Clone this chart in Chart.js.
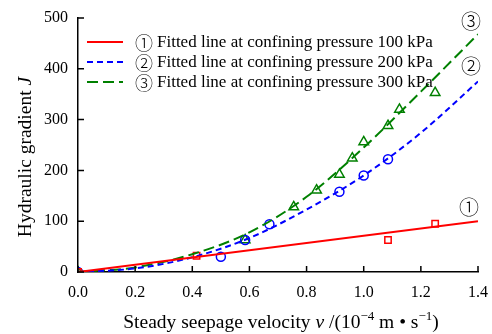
<!DOCTYPE html>
<html>
<head>
<meta charset="utf-8">
<script src="https://cdn.jsdelivr.net/npm/chart.js@4/dist/chart.umd.min.js"></script>
<style>
  html, body { margin: 0; padding: 0; background: #fff; }
  #wrap { width: 492px; height: 334px; }
</style>
</head>
<body>
<div id="wrap"><canvas id="seepChart" width="492" height="334"></canvas></div>
<script>
// measured points
const sq100X = [0, 0.415, 1.085, 1.25];
const sq100Y = [0, 32, 63, 95];
const ci200X = [0, 0.5, 0.585, 0.67, 0.915, 1.0, 1.085];
const ci200Y = [0, 30, 63, 94, 158, 190, 222];
const tr300X = [0, 0.585, 0.755, 0.835, 0.915, 0.96, 1.0, 1.085, 1.125, 1.25];
const tr300Y = [0, 63, 128, 161, 192, 224, 256, 288, 320, 353];

// fitted curves
const fit100X = [0, 1.4];
const fit100Y = [0, 100];
const fitX = [0, 0.2, 0.4, 0.6, 0.8, 1.0, 1.2, 1.4];
const fit200Y = [0, 7, 29, 67, 123, 190, 274, 375];
const fit300Y = [0, 9, 35, 78, 148, 245, 355, 468];

const marks = ['\u2460', '\u2461', '\u2462'];
const labels = [
  'Fitted line at confining pressure 100 kPa',
  'Fitted line at confining pressure 200 kPa',
  'Fitted line at confining pressure 300 kPa'
];
const xTicks = [0, 0.2, 0.4, 0.6, 0.8, 1.0, 1.2, 1.4];
const yTicks = [0, 100, 200, 300, 400, 500];

const SERIF = "'Liberation Serif', 'Times New Roman', serif";
const CIRC = "'Noto Sans CJK JP', 'DejaVu Sans', sans-serif";
const pts = (xs, ys) => xs.map((x, i) => ({ x: x, y: ys[i] }));

Chart.defaults.font.family = SERIF;
Chart.defaults.font.size = 16;
Chart.defaults.color = '#000';

function drawRun(c, segs, x, y) {
  segs.forEach(s => {
    c.font = s[1] + ' ' + SERIF;
    c.fillText(s[0], x, y + (s[2] || 0));
    x += c.measureText(s[0]).width;
  });
}
function runWidth(c, segs) {
  let w = 0;
  segs.forEach(s => { c.font = s[1] + ' ' + SERIF; w += c.measureText(s[0]).width; });
  return w;
}

const decor = {
  id: 'decor',
  afterDraw(chart) {
    const c = chart.ctx;
    const xs = chart.scales.x, ys = chart.scales.y;
    const area = chart.chartArea;
    c.save();
    // inward tick marks
    c.strokeStyle = '#000';
    c.lineWidth = 1.5;
    c.beginPath();
    xTicks.forEach(v => {
      const px = xs.getPixelForValue(v);
      c.moveTo(px, area.bottom);
      c.lineTo(px, area.bottom - 6);
    });
    yTicks.forEach(v => {
      const py = ys.getPixelForValue(v);
      c.moveTo(area.left, py);
      c.lineTo(area.left + 6, py);
    });
    c.stroke();

    // legend
    const fits = chart.data.datasets.slice(0, 3);
    fits.forEach((ds, i) => {
      const y = 42 + i * 20;
      c.strokeStyle = ds.borderColor;
      c.lineWidth = 2;
      c.setLineDash(ds.borderDash || []);
      c.beginPath();
      c.moveTo(87, y);
      c.lineTo(123, y);
      c.stroke();
      c.setLineDash([]);
      c.fillStyle = '#000';
      c.textBaseline = 'middle';
      c.textAlign = 'center';
      c.font = '300 18px ' + CIRC;
      c.fillText(marks[i], 144, y + 1);
      c.textAlign = 'left';
      c.font = '17px ' + SERIF;
      c.fillText(ds.label, 157, y + 1);
    });

    // curve tags
    c.font = '300 20px ' + CIRC;
    c.textAlign = 'center';
    c.textBaseline = 'middle';
    c.fillText(marks[2], 471, 21);
    c.fillText(marks[1], 471, 66);
    c.fillText(marks[0], 469, 207);

    // x title with italic v and superscripts
    const segs = [
      ['Steady seepage velocity ', '19.5px'],
      ['v', 'italic 19.5px'],
      [' /(10', '19.5px'],
      ['\u22124', '13px', -8],
      [' m \u2022 s', '19.5px'],
      ['\u22121', '13px', -8],
      [')', '19.5px']
    ];
    c.textAlign = 'left';
    c.textBaseline = 'alphabetic';
    drawRun(c, segs, 281 - runWidth(c, segs) / 2, 328);

    // y title, rotated
    c.translate(31, 157);
    c.rotate(-Math.PI / 2);
    const ysegs = [['Hydraulic gradient ', '19.5px'], ['J', 'italic 19.5px']];
    drawRun(c, ysegs, -runWidth(c, ysegs) / 2, 0);
    c.restore();
  }
};

new Chart(document.getElementById('seepChart'), {
  type: 'line',
  data: {
    datasets: [
      { label: labels[0], data: pts(fit100X, fit100Y), borderColor: '#ff0000', borderWidth: 2,
        pointRadius: 0, fill: false },
      { label: labels[1], data: pts(fitX, fit200Y), borderColor: '#0000ff', borderWidth: 2,
        borderDash: [6, 4], pointRadius: 0, cubicInterpolationMode: 'monotone', fill: false },
      { label: labels[2], data: pts(fitX, fit300Y), borderColor: '#008000', borderWidth: 2,
        borderDash: [11, 5], pointRadius: 0, cubicInterpolationMode: 'monotone', fill: false },
      { label: 'sq', data: pts(sq100X, sq100Y), showLine: false, pointStyle: 'rect',
        pointRadius: 4.5, borderColor: '#ff0000', backgroundColor: 'rgba(0,0,0,0)', pointBorderWidth: 1.5 },
      { label: 'ci', data: pts(ci200X, ci200Y), showLine: false, pointStyle: 'circle',
        pointRadius: 4.5, borderColor: '#0000ff', backgroundColor: 'rgba(0,0,0,0)', pointBorderWidth: 1.5 },
      { label: 'tr', data: pts(tr300X, tr300Y), showLine: false, pointStyle: 'triangle',
        pointRadius: 5.5, borderColor: '#008000', backgroundColor: 'rgba(0,0,0,0)', pointBorderWidth: 1.5 }
    ]
  },
  options: {
    responsive: false,
    animation: false,
    layout: { padding: { left: 0, top: 18, right: 14, bottom: 0 } },
    plugins: { legend: { display: false }, tooltip: { enabled: false } },
    scales: {
      x: {
        type: 'linear', min: 0, max: 1.4,
        afterBuildTicks: s => { s.ticks = xTicks.map(v => ({ value: v })); },
        afterFit: s => { s.height = 62; s.paddingLeft = 0; s.paddingRight = 0; },
        ticks: { padding: 11, callback: v => Number(v).toFixed(1), maxRotation: 0 },
        grid: { drawOnChartArea: false, drawTicks: false },
        border: { color: '#000', width: 1.5 }
      },
      y: {
        min: 0, max: 500,
        afterBuildTicks: s => { s.ticks = yTicks.map(v => ({ value: v })); },
        afterFit: s => { s.width = 78; s.paddingTop = 0; s.paddingBottom = 0; },
        ticks: { padding: 10 },
        grid: { drawOnChartArea: false, drawTicks: false },
        border: { color: '#000', width: 1.5 }
      }
    }
  },
  plugins: [decor]
});
</script>
</body>
</html>
